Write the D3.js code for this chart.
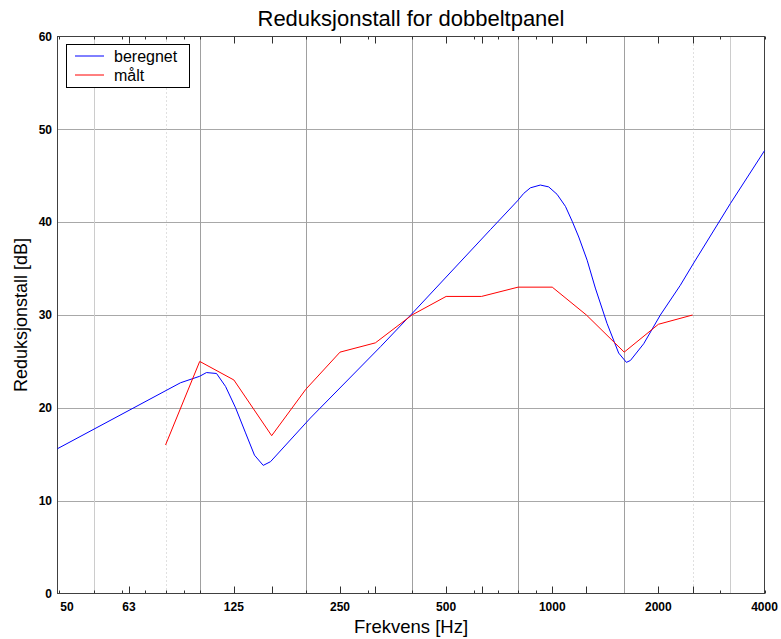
<!DOCTYPE html>
<html>
<head>
<meta charset="utf-8">
<script src="https://cdn.jsdelivr.net/npm/d3@7"></script>
<style>
  html, body { margin: 0; padding: 0; background: #fff; }
  svg { display: block; }
  text { font-family: "Liberation Sans", Arial, sans-serif; fill: #000; }
</style>
</head>
<body>
<svg id="chart" width="781" height="639"></svg>
<script>
// Sound reduction index of a double panel: calculated vs. measured
const xMin = 39.5, xMax = 4000;
const yMin = 0, yMax = 60;

// Calculated curve (beregnet)
const beregnetFreq = [39.5, 88.2, 100, 104.5, 111.6, 118.4, 126.4, 134.9, 143, 151.4, 158.8, 206, 326, 399,
  668, 797, 830, 867, 925, 977, 1032, 1090, 1139, 1189, 1256, 1325, 1430, 1543, 1623, 1666, 1817, 2026,
  2308, 2519, 3200, 4000];
const beregnetDb = [15.6, 22.7, 23.4, 23.8, 23.7, 22.3, 20.0, 17.3, 14.9, 13.8, 14.2, 18.9, 26.6, 30.1,
  39.2, 42.3, 43.1, 43.7, 44.0, 43.8, 43.0, 41.7, 40.1, 38.4, 35.9, 32.9, 29.1, 25.9, 24.9, 25.1, 26.9, 30.0,
  33.2, 35.6, 42.0, 47.7];

// Measured third-octave values (målt)
const maltFreq = [80, 100, 125, 160, 200, 250, 315, 400, 500, 630, 800, 1000, 1250, 1600, 2000, 2500];
const maltDb = [16, 25, 23, 17, 22, 26, 27, 30, 32, 32, 33, 33, 30, 26, 29, 30];

// Axis ticks and grid
const xTickValues = [42, 63, 125, 250, 500, 1000, 2000, 4000];
const xTickLabels = ["50", "63", "125", "250", "500", "1000", "2000", "4000"];
const yTickValues = [0, 10, 20, 30, 40, 50, 60];
const xGridSolid = [50, 100, 200, 400, 800, 1600, 3200];
const xGridLight = [50, 3200];
const xGridDotted = [80, 2500];
const majorTickFreq = [63, 125, 160, 250, 315, 500, 630, 1000, 1250, 2000, 2500];
const minorTickFreq = [40, 50, 60, 70, 80, 90, 100, 200, 300, 400, 500, 600, 700, 800, 900, 1000,
  2000, 3000, 4000];

const seriesNames = ["beregnet", "målt"];
const seriesColors = ["#0000ff", "#ff0000"];

const svg = d3.select("#chart");
const plotL = 57.5, plotR = 764.5, plotT = 36.5, plotB = 593.5;

const x = d3.scaleLog().domain([xMin, xMax]).range([plotL, plotR]);
const y = d3.scaleLinear().domain([yMin, yMax]).range([plotB, plotT]);

const g = svg.append("g");
const px = v => Math.round(v) + 0.5;

// horizontal grid
g.selectAll("line.hgrid").data(yTickValues.filter(v => v > yMin && v < yMax)).join("line")
  .attr("class", "hgrid")
  .attr("x1", plotL).attr("x2", plotR)
  .attr("y1", d => px(y(d))).attr("y2", d => px(y(d)))
  .attr("stroke", "#a8a8a8").attr("stroke-width", 1);

// vertical grid
g.selectAll("line.vgrid").data(xGridSolid).join("line")
  .attr("class", "vgrid")
  .attr("x1", d => px(x(d))).attr("x2", d => px(x(d)))
  .attr("y1", plotT).attr("y2", plotB)
  .attr("stroke", d => xGridLight.includes(d) ? "#cccccc" : "#a0a0a0").attr("stroke-width", 1);

g.selectAll("line.vdot").data(xGridDotted).join("line")
  .attr("class", "vdot")
  .attr("x1", d => px(x(d))).attr("x2", d => px(x(d)))
  .attr("y1", plotT).attr("y2", plotB)
  .attr("stroke", "#c0c0c0").attr("stroke-width", 1).attr("stroke-dasharray", "1,3");

// tick marks on bottom and top edges
function drawTicks(freqs, len) {
  g.append("g").selectAll("line").data(freqs).join("line")
    .attr("x1", d => px(x(d))).attr("x2", d => px(x(d)))
    .attr("y1", plotB).attr("y2", plotB - len)
    .attr("stroke", "#303030");
  g.append("g").selectAll("line").data(freqs).join("line")
    .attr("x1", d => px(x(d))).attr("x2", d => px(x(d)))
    .attr("y1", plotT).attr("y2", plotT + len)
    .attr("stroke", "#303030");
}
drawTicks(minorTickFreq, 3);
drawTicks(majorTickFreq, 7);

// axes frame
g.append("rect")
  .attr("x", plotL).attr("y", plotT).attr("width", plotR - plotL).attr("height", plotB - plotT)
  .attr("fill", "none").attr("stroke", "#404040").attr("stroke-width", 1);

// tick labels
g.append("g").selectAll("text").data(yTickValues).join("text")
  .attr("x", 52).attr("y", d => y(d)).attr("dy", "0.35em")
  .attr("text-anchor", "end").attr("font-size", 12).attr("font-weight", "bold")
  .text(d => d);

g.append("g").selectAll("text").data(xTickValues).join("text")
  .attr("x", d => x(d)).attr("y", 611)
  .attr("text-anchor", "middle").attr("font-size", 12).attr("font-weight", "bold")
  .text((d, i) => xTickLabels[i]);

// data lines
const line = d3.line().x(d => x(d[0])).y(d => y(d[1]));
const series = [
  d3.zip(beregnetFreq, beregnetDb),
  d3.zip(maltFreq, maltDb)
];
series.forEach((pts, i) => {
  g.append("path").datum(pts)
    .attr("d", line)
    .attr("fill", "none")
    .attr("stroke", seriesColors[i])
    .attr("stroke-width", 1);
});

// title and axis labels
svg.append("text").attr("x", (plotL + plotR) / 2).attr("y", 26)
  .attr("text-anchor", "middle").attr("font-size", 22)
  .text("Reduksjonstall for dobbeltpanel");

svg.append("text").attr("x", (plotL + plotR) / 2).attr("y", 633)
  .attr("text-anchor", "middle").attr("font-size", 18.5)
  .text("Frekvens [Hz]");

svg.append("text")
  .attr("transform", `translate(27,${(plotT + plotB) / 2}) rotate(-90)`)
  .attr("text-anchor", "middle").attr("font-size", 18)
  .text("Reduksjonstall [dB]");

// legend
const lg = svg.append("g");
lg.append("rect").attr("x", 66.5).attr("y", 44.5).attr("width", 123).attr("height", 43)
  .attr("fill", "#fff").attr("stroke", "#000").attr("stroke-width", 1);
seriesNames.forEach((name, i) => {
  const ly = 56 + i * 19;
  lg.append("path")
    .attr("d", `M75,${ly}H104`)
    .attr("fill", "none")
    .attr("stroke", seriesColors[i]).attr("stroke-width", 1);
  lg.append("text").attr("x", 114).attr("y", ly + 6).attr("font-size", 16).text(name);
});
</script>
</body>
</html>
